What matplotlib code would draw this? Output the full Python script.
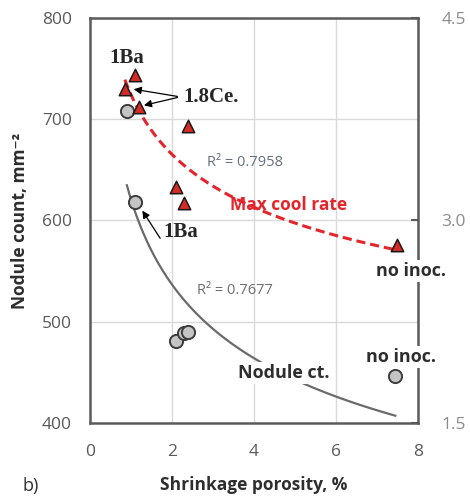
import numpy as np
import matplotlib
matplotlib.use("Agg")
import matplotlib.pyplot as plt

plt.rcParams['font.family'] = ['Open Sans', 'DejaVu Sans']

# nodule count vs shrinkage porosity (left axis)
por_nod = [0.9, 1.1, 2.1, 2.3, 2.4, 7.45]
nod_count = [708, 618, 481, 489, 490, 446]

# max cooling rate vs shrinkage porosity (right axis)
por_cool = [0.85, 1.1, 1.2, 2.1, 2.3, 2.4, 7.5]
cool_rate = [3.97, 4.08, 3.84, 3.25, 3.13, 3.70, 2.82]

x_ticks = [0, 2, 4, 6, 8]
y_ticks = [400, 500, 600, 700, 800]
y2_ticks = [1.5, 3.0, 4.5]


def power_fit(x, y):
    x = np.asarray(x, float)
    y = np.asarray(y, float)
    b, lna = np.polyfit(np.log(x), np.log(y), 1)
    xs = np.linspace(x.min(), x.max(), 200)
    return xs, np.exp(lna) * xs ** b


fig = plt.figure(figsize=(4.70, 4.97), dpi=100)
ax = fig.add_axes([0.1915, 0.149, 0.6975, 0.815])
ax2 = ax.twinx()

ax.set_xlim(0, 8)
ax.set_ylim(400, 800)
ax2.set_ylim(1.5, 4.5)
ax.set_xticks(x_ticks)
ax.set_yticks(y_ticks)
ax2.set_yticks(y2_ticks)
ax2.set_yticklabels(['%.1f' % v for v in y2_ticks])

ax.grid(True, color='#d9d9d9', lw=1)
ax.set_axisbelow(True)
for s in ax.spines.values():
    s.set_color('#5a5a5a')
    s.set_linewidth(1.8)
for s in ax2.spines.values():
    s.set_visible(False)

ax.tick_params(axis='both', length=0, labelsize=12.5, colors='#595959')
ax.tick_params(axis='x', pad=15)
ax.tick_params(axis='y', pad=13)
ax2.tick_params(axis='y', direction='in', length=5, width=1.5, color='#5a5a5a',
                labelsize=12.5, labelcolor='#8c8c8c', pad=17)

# trendlines
xs, ys = power_fit(por_nod, nod_count)
ax.plot(xs, ys, color='#6a6a6a', lw=1.6, zorder=2)
xs2, ys2 = power_fit(por_cool, cool_rate)
ax2.plot(xs2, ys2, color='#e3262b', lw=2.2, ls=(0, (3, 1.6)), zorder=2)

ax.scatter(por_nod, nod_count, s=90, marker='o', facecolor='#c4c4c4',
           edgecolor='#3c3c3c', lw=1.4, zorder=4)
ax2.scatter(por_cool, cool_rate, s=80, marker='^', facecolor='#d52b25',
            edgecolor='#1a1a1a', lw=1.1, zorder=4)

serif = dict(family='Liberation Serif', fontsize=15, fontweight='bold', color='#262626')
ax.text(0.90, 760, '1Ba', ha='center', va='center', **serif)
ax.text(2.27, 722, '1.8Ce.', ha='left', va='center', **serif)
ax.text(1.78, 589, '1Ba', ha='left', va='center', **serif)

arr = dict(arrowstyle='-|>', color='black', lw=0.9, mutation_scale=11)
ax.annotate('', xy=(1.0, 730), xytext=(2.2, 722), arrowprops=arr)
ax.annotate('', xy=(1.25, 713), xytext=(2.2, 722), arrowprops=arr)
ax.annotate('', xy=(1.24, 612), xytext=(1.75, 580), arrowprops=arr)

ax.text(2.85, 657, 'R² = 0.7958', fontsize=10.5, color='#66707c', va='center')
ax.text(2.61, 531, 'R² = 0.7677', fontsize=10.5, color='#6e6e6e', va='center')
ax.text(3.41, 615, 'Max cool rate', fontsize=12.5, fontweight='bold',
        color='#e3262b', va='center')

box = dict(facecolor='white', edgecolor='none', pad=1.5)
txt = dict(fontsize=13, fontweight='bold', color='#2e2e2e', ha='center',
           va='center', bbox=box, zorder=5, clip_on=False)
ax.text(4.72, 449, 'Nodule ct.', **txt)
ax.text(7.83, 550, 'no inoc.', **txt)
ax.text(7.59, 465, 'no inoc.', **txt)

ax.set_xlabel('Shrinkage porosity, %', fontsize=12.5, fontweight='bold',
              color='#2e2e2e', labelpad=12)
ax.set_ylabel('Nodule count, mm⁻²', fontsize=12.5, fontweight='bold',
              color='#2e2e2e', labelpad=9)
fig.text(0.048, 0.012, 'b)', fontsize=13, color='#2e2e2e')

fig.savefig('out.png', dpi=100)
